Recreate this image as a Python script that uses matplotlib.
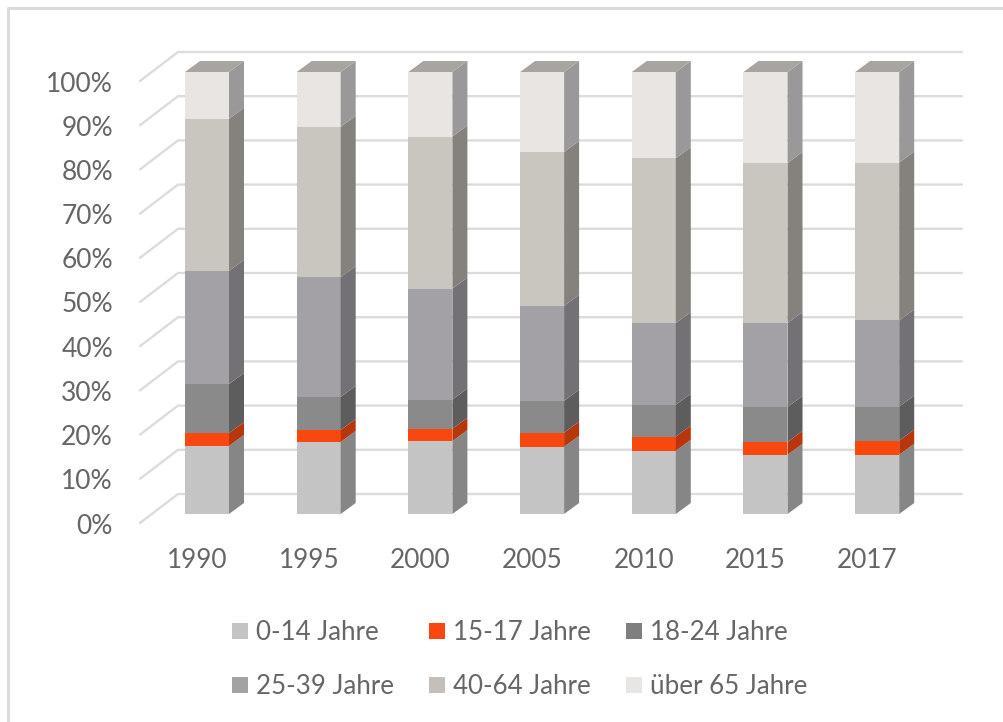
"""Stacked pseudo-3D columns: share of age groups, 1990-2017."""
import matplotlib
matplotlib.use("Agg")
import matplotlib.pyplot as plt
from matplotlib.patches import Patch, Polygon, Rectangle

W, H = 1004, 722
X0, STEP = 207.0, 111.7   # pixel centre of first column, column spacing
Y0, PCT = 514.0, 4.42     # pixel of 0 %, pixels per percent

years = ["1990", "1995", "2000", "2005", "2010", "2015", "2017"]
labels = ["0-14 Jahre", "15-17 Jahre", "18-24 Jahre",
          "25-39 Jahre", "40-64 Jahre", "über 65 Jahre"]
age_0_14 = [15.4, 16.3, 16.5, 15.2, 14.3, 13.4, 13.4]
age_15_17 = [2.9, 2.7, 2.8, 3.2, 3.2, 2.9, 3.2]
age_18_24 = [11.1, 7.5, 6.6, 7.2, 7.2, 7.9, 7.7]
age_25_39 = [25.6, 27.1, 25.1, 21.5, 18.5, 19.0, 19.5]
age_40_64 = [34.4, 34.0, 34.4, 34.8, 37.3, 36.2, 35.7]
age_65 = [10.6, 12.4, 14.6, 18.1, 19.5, 20.6, 20.5]
series = [age_0_14, age_15_17, age_18_24, age_25_39, age_40_64, age_65]

front = ["#c4c4c4", "#f9480f", "#8a8a8a", "#a3a1a5", "#c9c5bf", "#e8e5e2"]
side = ["#868686", "#b8360b", "#5d5d5d", "#737175", "#85817c", "#9a9898"]
legend_cols = ["#c4c4c4", "#f9480f", "#7f7f7f", "#a3a3a3", "#c4bfb9", "#e8e6e4"]
TOP = "#a8a4a0"
GRID = "#dcdcdc"
TEXT = "#666666"

BAR_W = 44 / STEP             # column width in category units
DX, DY = 15 / STEP, 11 / PCT  # depth of the columns


def px_x(px):
    return (px - X0) / STEP


def px_y(px):
    return (Y0 - px) / PCT


plt.rcParams["font.family"] = ["Lato", "DejaVu Sans"]
fig = plt.figure(figsize=(W / 100, H / 100), dpi=100)
ax = fig.add_axes([0, 0, 1, 1])
ax.set_xlim(px_x(0), px_x(W))
ax.set_ylim(px_y(H), px_y(0))
ax.axis("off")

# top and left edge of the pasted picture
ax.plot([px_x(W), px_x(8), px_x(8)], [px_y(8), px_y(8), px_y(H)],
        color=GRID, lw=2.2, zorder=1)

# back wall gridlines with their diagonal floor pieces
for pct in range(0, 101, 10):
    y_front = pct + px_y(523)
    y_back = pct + px_y(494)
    ax.plot([px_x(140), px_x(178), px_x(962)], [y_front, y_back, y_back],
            color=GRID, lw=1.7, zorder=1, solid_capstyle="round")
    ax.text(px_x(113), pct + px_y(526), f"{pct}%", ha="right", va="center",
            fontsize=19, color=TEXT)

for i, year in enumerate(years):
    left, right = i - BAR_W / 2, i + BAR_W / 2
    bottom = 0.0
    for vals, fc, sc in zip(series, front, side):
        top = bottom + vals[i]
        ax.add_patch(Rectangle((left, bottom), BAR_W, vals[i], fc=fc, ec="none", zorder=3))
        ax.add_patch(Polygon([(right, bottom), (right + DX, bottom + DY),
                              (right + DX, top + DY), (right, top)],
                             fc=sc, ec="none", zorder=3))
        bottom = top
    ax.add_patch(Polygon([(left, bottom), (left + DX, bottom + DY),
                          (right + DX, bottom + DY), (right, bottom)],
                         fc=TOP, ec="none", zorder=3))
    ax.text(i - 10 / STEP, px_y(561), year, ha="center", va="center",
            fontsize=18.8, color=TEXT)

# matplotlib fills legend columns first, so feed it column by column
order = [0, 3, 1, 4, 2, 5]
handles = [Patch(fc=legend_cols[k], ec="none", label=labels[k]) for k in order]
ax.legend(handles=handles, ncol=3, frameon=False, fontsize=18.6, labelcolor=TEXT,
          loc="center", bbox_to_anchor=(520 / W, 1 - 659.5 / H),
          handlelength=0.62, handleheight=0.62, handletextpad=0.31,
          columnspacing=1.35, labelspacing=1.12)

fig.savefig("out.png", dpi=100)
